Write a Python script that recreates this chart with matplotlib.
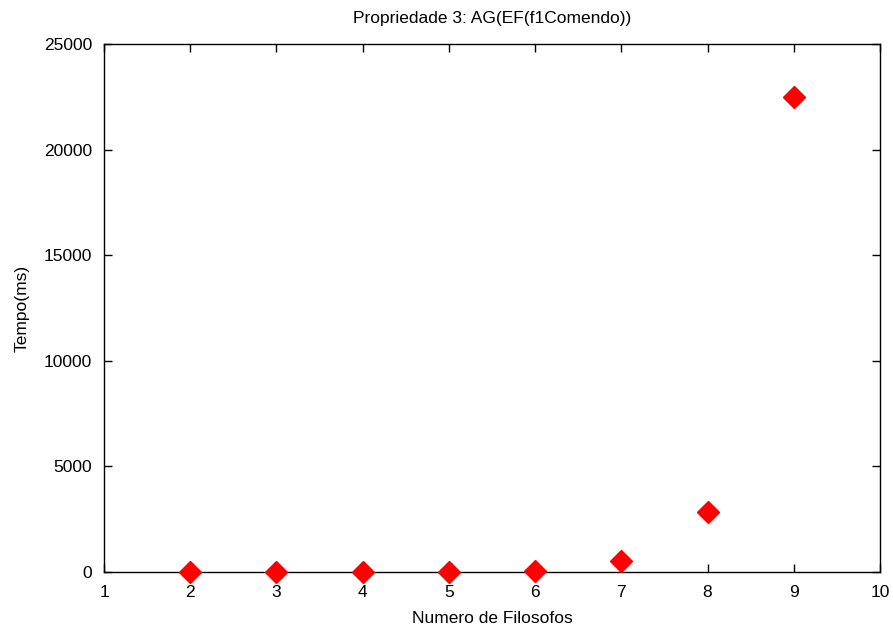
import matplotlib
matplotlib.use('Agg')
import matplotlib.pyplot as plt

# Data
filosofos = [2, 3, 4, 5, 6, 7, 8, 9]
tempo_ms = [2, 5, 10, 20, 60, 535, 2860, 22470]

plt.rcParams['font.family'] = ['Liberation Sans', 'DejaVu Sans']
plt.rcParams['font.size'] = 12.5

fig = plt.figure(figsize=(8.93, 6.31), dpi=100)
ax = fig.add_axes([0.1165, 0.0935, 0.8689, 0.8368])

ax.plot(filosofos, tempo_ms, linestyle='none', marker='D', markersize=11.5,
        color='#ff0000', clip_on=False, zorder=3)

ax.set_xlim(1, 10)
ax.set_ylim(0, 25000)
ax.set_xticks(range(1, 11))
ax.set_yticks(range(0, 25001, 5000))
ax.tick_params(direction='in', top=True, right=True, length=6, width=1,
               labelsize=12.5)
ax.tick_params(axis='y', pad=8.5)
ax.tick_params(axis='x', pad=9)
for s in ax.spines.values():
    s.set_linewidth(1)

ax.set_title('Propriedade 3: AG(EF(f1Comendo))', fontsize=12.5, pad=15)
ax.set_xlabel('Numero de Filosofos', fontsize=12.5, labelpad=8)
ax.set_ylabel('Tempo(ms)', fontsize=12.5, labelpad=10)

fig.savefig('out.png', dpi=100)
